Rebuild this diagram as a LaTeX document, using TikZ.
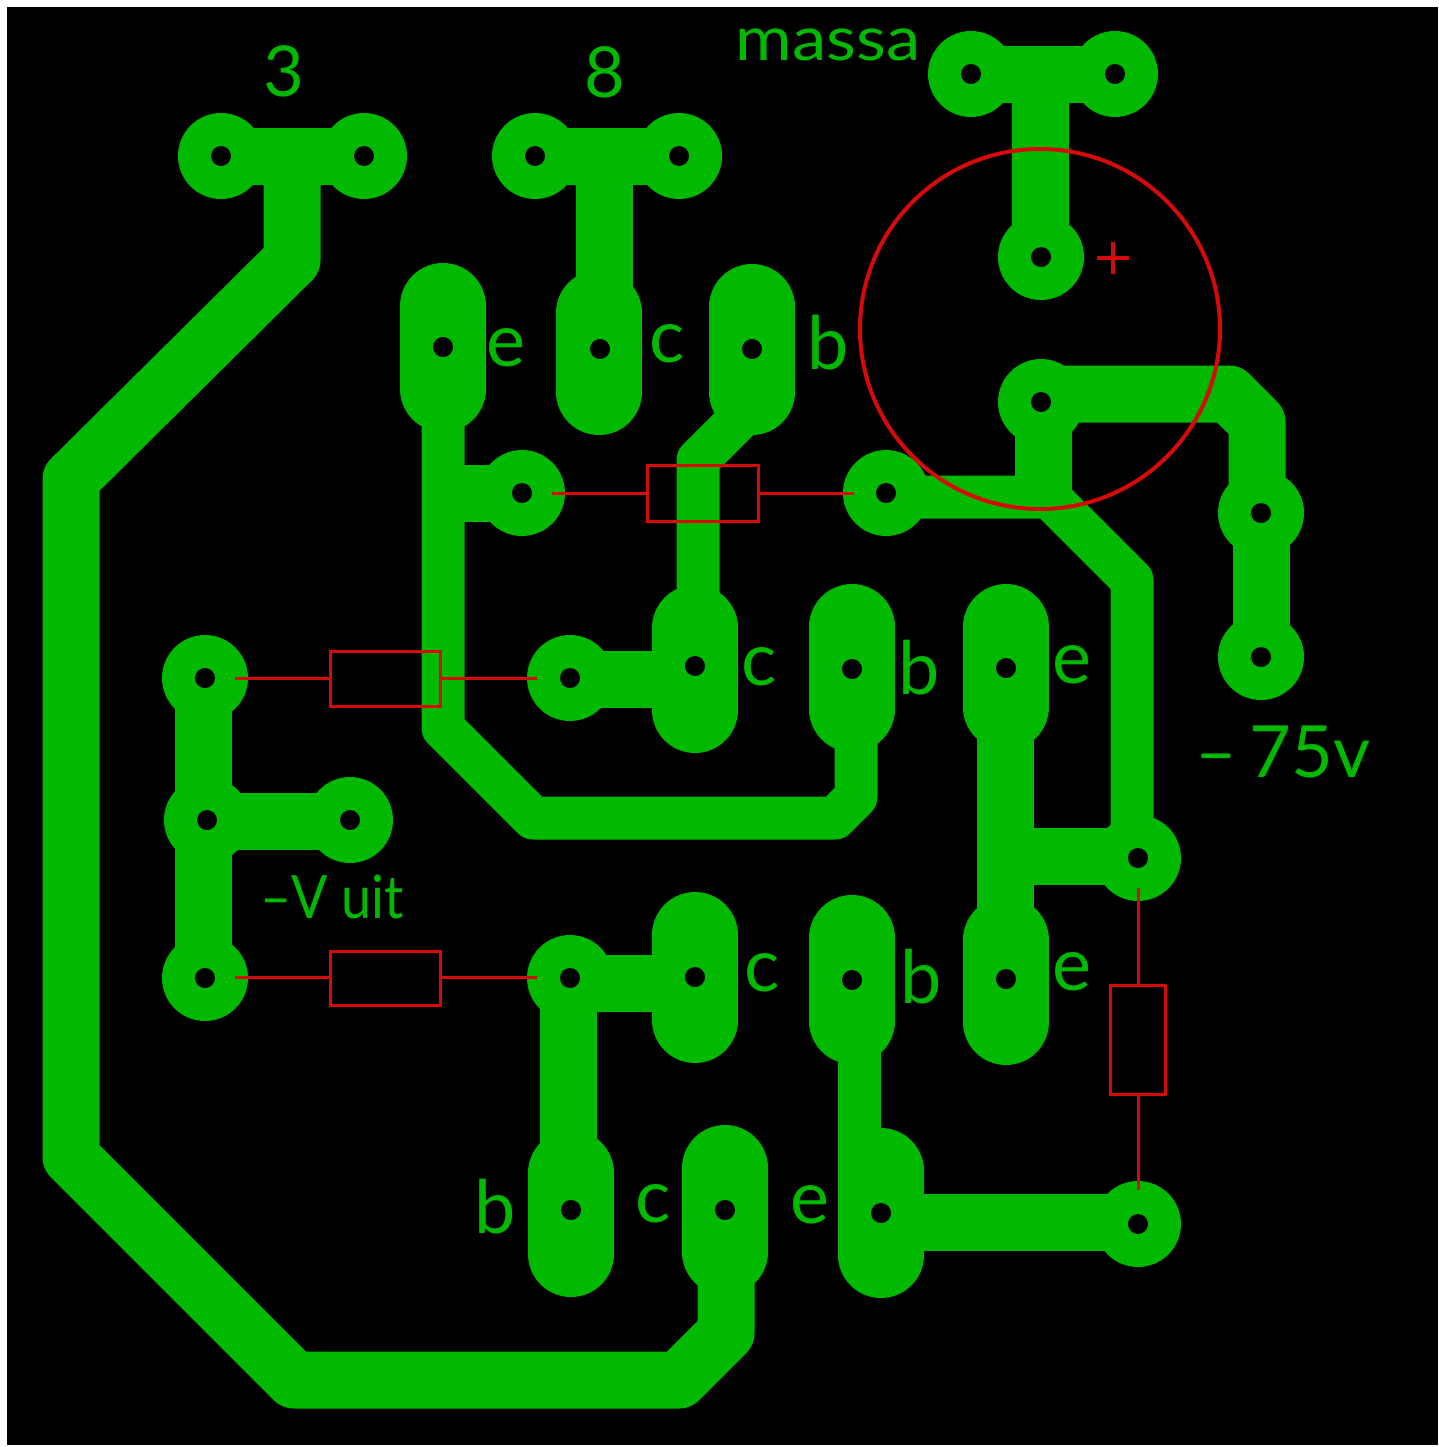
\documentclass[tikz,border=0pt]{standalone}
\usepackage{graphicx}
\usepackage{fontspec}
\setmainfont{Lato}
\definecolor{pcbgreen}{RGB}{0,185,0}
\definecolor{pcbred}{RGB}{215,10,10}
\tikzset{
  x=0.02cm,y=-0.02cm,
  track/.style={draw=pcbgreen,line width=57*0.02cm,line join=round,line cap=butt},
  thin track/.style={draw=pcbgreen,line width=43*0.02cm,line join=round,line cap=butt},
  oval/.style={draw=pcbgreen,line width=86*0.02cm,line cap=round},
  pad/.style={fill=pcbgreen},
  hole/.style={fill=black},
  part/.style={draw=pcbred,line width=3*0.02cm},
  lbl/.style={text=pcbgreen,inner sep=0pt,outer sep=0pt,anchor=center,font=\fontsize{#1}{#1}\selectfont},
}
\begin{document}
\begin{tikzpicture}
\useasboundingbox (0,0) rectangle (1438,1447);
\fill[white] (0,0) rectangle (1438,1447);
\fill[black] (7,7) rectangle (1438,1445);
% ovals
\foreach \x/\a/\b in {443/306/389,599/313/392,752/307/392,695/628/710,852/627/709,1006/627/707,1006/940/1022,695/935/1020,852/938/1021,571/1173/1254,725/1168/1252,881/1171/1255}
  \draw[oval] (\x,\a) -- (\x,\b);
% wide tracks
\draw[track] (221,156) -- (364,156);
\draw[track] (292,156) -- (292,260) -- (71,479) -- (71,1157) -- (294,1380) -- (679,1380) -- (726,1333) -- (726,1210);
\draw[track] (535,156) -- (679,156);
\draw[track] (604,156) -- (604,300);
\draw[track] (971,74) -- (1115,74);
\draw[track] (1040,74) -- (1040,257);
\draw[track] (1041,394) -- (1229,394) -- (1257,422) -- (1257,513);
\draw[track] (1261,513) -- (1261,657);
\draw[track] (1043,402) -- (1043,497);
\draw[track] (1005,668) -- (1005,979);
\draw[track] (1005,856) -- (1138,856);
\draw[track] (443,493) -- (522,493);
\draw[track] (570,679) -- (695,679);
\draw[track] (203,678) -- (203,978);
\draw[track] (203,821) -- (350,821);
\draw[track] (570,983) -- (695,983);
\draw[track] (568,978) -- (568,1210);
\draw[track] (881,1222) -- (1138,1222);
% narrow tracks
\draw[thin track] (886,497) -- (1049,497) -- (1132,580) -- (1132,858);
\draw[thin track] (443,347) -- (443,728) -- (533,818) -- (835,818) -- (856,797) -- (856,668);
\draw[thin track] (752,406) -- (698,460) -- (698,667);
\draw[thin track] (859,979) -- (859,1213);
% pads
\foreach \x/\y in {221/156,364/156,535/156,679/156,971/74,1115/74,1041/257,1041/402,1261/513,1261/657,522/493,886/493,205/678,350/820,207/820,205/978,570/678,570/978,1138/858,1138/1224}
  \fill[pad] (\x,\y) circle[radius=43];
% holes
\foreach \x/\y in {221/156,364/156,535/156,679/156,971/74,1115/74,1041/257,1041/402,1261/513,1261/657,522/493,886/493,205/678,350/820,207/820,205/978,570/678,570/978,1138/858,1138/1224,443/347,600/349,752/349,695/666,852/669,1006/668,1006/979,695/977,852/980,571/1210,725/1210,881/1213}
  \fill[hole] (\x,\y) circle[radius=10];
% components
\draw[part] (552,493) -- (647,493) (647,465) rectangle (758,521) (758,493) -- (854,493);
\draw[part] (235,678) -- (330,678) (330,651) rectangle (440,706) (440,678) -- (537,678);
\draw[part] (235,977) -- (330,977) (330,951) rectangle (440,1005) (440,977) -- (537,977);
\draw[part] (1138,888) -- (1138,985) (1110,985) rectangle (1165,1094) (1138,1094) -- (1138,1190);
\draw[part,line width=4*0.02cm] (1040,329) circle[radius=180];
\draw[part,line width=4*0.02cm] (1097,258) -- (1129,258) (1113,242) -- (1113,274);
% labels
\node[lbl=40pt] (n3) at (284,71) {3};
\node[lbl=40pt] (n8) at (605,72) {8};
\node[lbl=35pt] (massa) at (828,45) {\scalebox{1.12}[1]{massa}};
\node[lbl=42pt] (e1) at (506,348) {e};
\node[lbl=42pt] (c1) at (667,344) {c};
\node[lbl=42pt] (b1) at (828,343) {b};
\node[lbl=42pt] (c2) at (759,667) {c};
\node[lbl=42pt] (b2) at (919,668) {b};
\node[lbl=42pt] (e2) at (1072,665) {e};
\node[lbl=41pt] (v75) at (1283,752) {–\,75v};
\node[lbl=34pt] (vuit) at (332,897) {\scalebox{0.9}[1]{–V uit}};
\node[lbl=42pt] (c3) at (762,973) {c};
\node[lbl=42pt] (b3) at (921,977) {b};
\node[lbl=42pt] (e3) at (1072,972) {e};
\node[lbl=42pt] (b4) at (495,1207) {b};
\node[lbl=42pt] (c4) at (653,1204) {c};
\node[lbl=42pt] (e4) at (810,1205) {e};
\end{tikzpicture}
\end{document}
